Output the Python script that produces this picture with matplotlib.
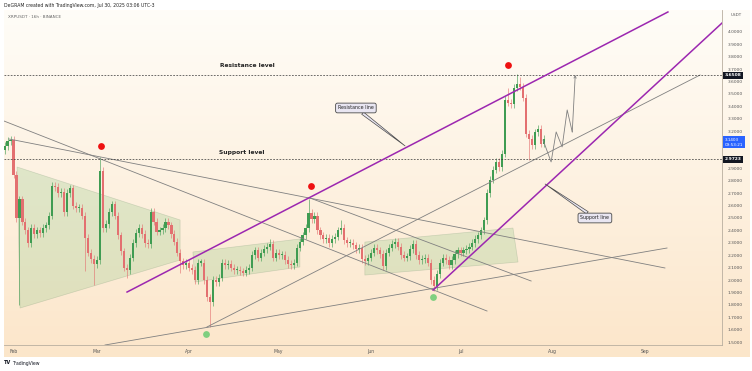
import numpy as np
import pandas as pd
import matplotlib
matplotlib.use('Agg')
import matplotlib.pyplot as plt
import matplotlib.dates as mdates
from matplotlib.patches import Polygon

# XRPUSDT daily closes, first value = Jan 29 2025 (day offset -3 from Feb 1)
first_day = -3
closes = [3.08, 3.12, 3.13, 2.85, 2.50, 2.65, 2.47, 2.40, 2.30, 2.42,
          2.37, 2.40, 2.38, 2.42, 2.44, 2.52, 2.76, 2.75, 2.70, 2.71,
          2.55, 2.70, 2.74, 2.60, 2.58, 2.58, 2.52, 2.34, 2.22, 2.17,
          2.13, 2.16, 2.88, 2.42, 2.45, 2.55, 2.61, 2.52, 2.36, 2.23,
          2.10, 2.08, 2.18, 2.30, 2.38, 2.42, 2.37, 2.30, 2.29, 2.55,
          2.47, 2.39, 2.40, 2.42, 2.47, 2.44, 2.37, 2.31, 2.22, 2.15,
          2.12, 2.14, 2.10, 2.08, 2.00, 2.14, 2.14, 2.00, 1.86, 1.82,
          2.00, 1.98, 2.02, 2.14, 2.12, 2.13, 2.10, 2.08, 2.08, 2.07,
          2.06, 2.08, 2.10, 2.20, 2.24, 2.18, 2.22, 2.25, 2.27, 2.29,
          2.18, 2.22, 2.20, 2.20, 2.16, 2.13, 2.12, 2.14, 2.26, 2.31,
          2.36, 2.42, 2.54, 2.49, 2.52, 2.40, 2.36, 2.33, 2.34, 2.30,
          2.33, 2.35, 2.40, 2.42, 2.32, 2.30, 2.30, 2.28, 2.25, 2.26,
          2.17, 2.15, 2.18, 2.22, 2.26, 2.24, 2.21, 2.11, 2.22, 2.26,
          2.29, 2.31, 2.27, 2.20, 2.18, 2.19, 2.25, 2.29, 2.20, 2.16,
          2.17, 2.18, 2.14, 2.00, 1.95, 2.05, 2.14, 2.18, 2.16, 2.12,
          2.16, 2.21, 2.24, 2.22, 2.24, 2.25, 2.27, 2.30, 2.33, 2.36,
          2.40, 2.48, 2.70, 2.81, 2.89, 2.95, 2.91, 3.02, 3.45, 3.43,
          3.42, 3.55, 3.58, 3.56, 3.47, 3.18, 3.14, 3.09, 3.19, 3.22,
          3.10, 3.1403]
first_open = 3.05
# notable wicks (day offset from Feb 1 -> price)
high_wicks = {-1: 3.16, 29: 2.99, 86: 2.33, 99: 2.65, 110: 2.48,
              166: 3.55, 169: 3.66, 170: 3.64}
low_wicks = {2: 1.80, 24: 2.07, 27: 1.96, 38: 2.02, 56: 2.06, 66: 1.62,
             141: 1.91, 173: 2.97}

resistance_level = 3.6508
support_level = 2.9723
last_price = 3.1403
# price axis labels (3.0 and 3.1 sit under the price tags)
price_ticks = [1.5, 1.6, 1.7, 1.8, 1.9, 2.0, 2.1, 2.2, 2.3, 2.4, 2.5, 2.6,
               2.7, 2.8, 2.9, 3.2, 3.3, 3.4, 3.5, 3.6, 3.7, 3.8, 3.9, 4.0]

# trend lines: (day offset, price) pairs
grey_lines = [[(-1.5, 3.137), (218.6, 2.097)],
              [(-3.2, 3.282), (158.9, 1.750)],
              [(99.5, 2.661), (173.7, 1.992)],
              [(64.9, 1.621), (230.4, 3.653)],
              [(30.7, 1.476), (219.3, 2.258)]]
resistance_line = [(38.1, 1.903), (219.6, 4.161)]
support_line = [(140.8, 1.919), (237.8, 4.073)]

zones = [[(1.2, 2.911), (55.9, 2.484), (55.9, 2.161), (2.2, 1.774)],
         [(60.2, 2.226), (96.1, 2.331), (96.1, 2.105), (60.9, 1.984)],
         [(117.9, 2.306), (167.6, 2.419), (169.3, 2.145), (117.9, 2.040)]]

red_dots = [(29.4, 3.081), (99.8, 2.758), (165.9, 3.734)]
green_dots = [(64.6, 1.565), (140.8, 1.863)]

projection = [(177.7, 3.129), (180.4, 2.952), (182.1, 3.194), (184.1, 3.073),
              (185.8, 3.371), (187.5, 3.194), (188.5, 3.653)]

base = mdates.date2num(pd.Timestamp('2025-02-01'))


def X(d):
    return base + d


W, H = 752, 371
fig = plt.figure(figsize=(W / 100, H / 100), dpi=100)
fig.patch.set_facecolor('white')

# gradient panel
bg = fig.add_axes([4 / W, (H - 357) / H, 746 / W, 347 / H])
grad = np.linspace(0, 1, 256).reshape(-1, 1)
top = np.array([1.0, 0.992, 0.972])
bot = np.array([0.988, 0.902, 0.792])
img = top + (bot - top) * grad[:, :, None]
bg.imshow(img, aspect='auto', extent=[0, 1, 0, 1], origin='upper')
bg.axis('off')

ax = fig.add_axes([4 / W, (H - 345) / H, 718 / W, 335 / H])
ax.set_facecolor('none')
ax.set_xlim(X(-3.19), X(237.75))
ax.set_ylim(1.476, 4.177)

# candles
o = first_open
up_c, dn_c = '#3f9c52', '#e37070'
for i, c in enumerate(closes):
    d = first_day + i
    hi = high_wicks.get(d, max(o, c) + 0.03)
    lo = low_wicks.get(d, min(o, c) - 0.03)
    col = up_c if c >= o else dn_c
    ax.vlines(X(d), lo, hi, color=col, lw=0.6, alpha=0.7, zorder=3)
    ax.bar(X(d), max(abs(c - o), 0.01), bottom=min(o, c), width=0.72,
           color=col, lw=0, zorder=4)
    o = c

# zones
for z in zones:
    ax.add_patch(Polygon([(X(d), p) for d, p in z], closed=True,
                         facecolor='#9ccc8f', alpha=0.3, edgecolor='#7d9a78',
                         lw=0.5, zorder=2))

for ln in grey_lines:
    ax.plot([X(d) for d, p in ln], [p for d, p in ln], color='#808080',
            lw=0.6, zorder=5)
for ln in (resistance_line, support_line):
    ax.plot([X(d) for d, p in ln], [p for d, p in ln], color='#9c27b0',
            lw=1.1, zorder=6)

ax.axhline(resistance_level, color='#333333', lw=0.5, ls=(0, (2.5, 2)), zorder=5)
ax.axhline(support_level, color='#333333', lw=0.5, ls=(0, (2.5, 2)), zorder=5)

ax.scatter([X(d) for d, p in red_dots], [p for d, p in red_dots], s=24,
           color='#ee1111', zorder=7, lw=0)
ax.scatter([X(d) for d, p in green_dots], [p for d, p in green_dots], s=24,
           color='#7fcf7f', zorder=7, lw=0)

ax.plot([X(d) for d, p in projection[:-1]], [p for d, p in projection[:-1]],
        color='#808080', lw=0.6, zorder=6)
ax.annotate('', xy=(X(projection[-1][0]), projection[-1][1]),
            xytext=(X(projection[-2][0]), projection[-2][1]),
            arrowprops=dict(arrowstyle='->', color='#808080', lw=0.6,
                            mutation_scale=4, shrinkA=0, shrinkB=0), zorder=6)

ax.text(X(78.4), 3.726, 'Resistance level', fontsize=4.3, fontweight='bold',
        ha='center', va='center', color='#222222', zorder=8)
ax.text(X(76.7), 3.032, 'Support level', fontsize=4.3, fontweight='bold',
        ha='center', va='center', color='#222222', zorder=8)

call_box = dict(boxstyle='round,pad=0.5,rounding_size=0.4', fc='#e9e6f2',
                ec='#4a4a4a', lw=0.6)
ax.annotate('Resistance line', xy=(X(131.4), 3.081), xytext=(X(114.9), 3.387),
            fontsize=3.4, ha='center', va='center', color='#222222', bbox=call_box,
            arrowprops=dict(arrowstyle='wedge,tail_width=0.6', fc='#e9e6f2',
                            ec='#4a4a4a', lw=0.5, shrinkA=0, shrinkB=0), zorder=8)
ax.annotate('Support line', xy=(X(178.4), 2.774), xytext=(X(195.1), 2.50),
            fontsize=3.4, ha='center', va='center', color='#222222', bbox=call_box,
            arrowprops=dict(arrowstyle='wedge,tail_width=0.6', fc='#e9e6f2',
                            ec='#4a4a4a', lw=0.5, shrinkA=0, shrinkB=0), zorder=8)

# axes styling
for s in ('top', 'left'):
    ax.spines[s].set_visible(False)
for s in ('right', 'bottom'):
    ax.spines[s].set_color('#b8ae9f')
    ax.spines[s].set_linewidth(0.6)
ax.yaxis.tick_right()
ax.set_yticks(price_ticks)
ax.yaxis.set_major_formatter(plt.FuncFormatter(lambda v, p: f'{v:.4f}'))
ax.tick_params(axis='y', length=0, pad=4, labelsize=3.2, labelcolor='#555555')
ax.xaxis.set_major_locator(mdates.MonthLocator())
ax.xaxis.set_major_formatter(mdates.DateFormatter('%b'))
ax.tick_params(axis='x', length=0, pad=3, labelsize=3.3, labelcolor='#555555')

ytr = ax.get_yaxis_transform()
for val, fc in ((resistance_level, '#131722'), (support_level, '#131722')):
    ax.text(1.004, val, f'{val:.4f}', transform=ytr, fontsize=3.2, color='white',
            fontweight='bold', ha='left', va='center', clip_on=False, zorder=10,
            bbox=dict(boxstyle='square,pad=0.35', fc=fc, ec='none'))
ax.text(1.004, last_price - 0.03, f'{last_price:.4f}\n09:53:21', transform=ytr,
        fontsize=3.0, color='white', ha='left', va='center', clip_on=False,
        zorder=10, linespacing=1.3,
        bbox=dict(boxstyle='square,pad=0.35', fc='#2962ff', ec='none'))
ax.text(1.012, 4.14, 'USDT', transform=ytr, fontsize=3.0, color='#555555',
        ha='left', va='center', clip_on=False)

fig.text(4 / W, 1 - 5 / H, 'DeGRAM created with TradingView.com, Jul 30, 2025 03:06 UTC-3',
         fontsize=3.3, color='#222222', va='center', ha='left')
fig.text(8 / W, 1 - 17 / H, 'XRPUSDT · 16h · BINANCE', fontsize=3.0,
         color='#666666', va='center', ha='left')
fig.text(4 / W, 1 - 363 / H, 'TV', fontsize=3.6, fontweight='bold',
         color='#131722', va='center', ha='left')
fig.text(12 / W, 1 - 363 / H, 'TradingView', fontsize=3.3,
         color='#131722', va='center', ha='left')

fig.savefig('out.png', dpi=100)
